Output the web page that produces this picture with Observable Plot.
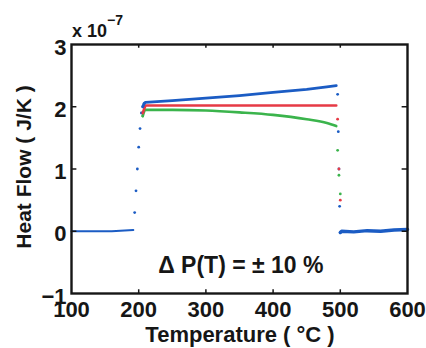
<!DOCTYPE html>
<html>
<head>
<meta charset="utf-8">
<script src="https://cdn.jsdelivr.net/npm/d3@7"></script>
<script src="https://cdn.jsdelivr.net/npm/@observablehq/plot@0.6"></script>
<style>
  html, body { margin: 0; padding: 0; background: #fff; }
  #chart { position: relative; width: 426px; height: 348px; }
  svg text { font-family: "Liberation Sans", Arial, sans-serif; font-weight: bold; }
</style>
</head>
<body>
<div id="chart"></div>
<script>
// Heat flow (units of 1e-7 J/K) versus temperature for a ±10 % power perturbation
const xTicks = [100, 200, 300, 400, 500, 600];
const yTicks = [-1, 0, 1, 2, 3];
const exponentLabel = "−7";

// nominal power: baseline, step up, plateau, step down, baseline
const blueT = [100, 130, 160, 192, 194, 196, 198, 200, 202, 204, 206, 208, 210, 250, 300, 350, 400, 450, 480, 494, 496, 497, 498, 499, 500, 502, 520, 540, 560, 580, 600];
const blueQ = [0, 0, 0, 0.02, 0.3, 0.65, 1.0, 1.35, 1.65, 1.9, 2.0, 2.05, 2.07, 2.1, 2.14, 2.18, 2.23, 2.28, 2.32, 2.34, 2.2, 1.6, 1.0, 0.4, -0.02, 0.0, -0.01, 0.01, 0.0, 0.02, 0.03];

// +10 % power
const redT = [206, 210, 250, 300, 350, 400, 450, 494, 496, 498, 500];
const redQ = [1.9, 2.02, 2.02, 2.02, 2.02, 2.02, 2.02, 2.02, 1.8, 1.0, 0.5];

// -10 % power
const greenT = [206, 210, 250, 300, 350, 400, 450, 480, 494, 496, 498, 500];
const greenQ = [1.85, 1.95, 1.95, 1.94, 1.91, 1.87, 1.8, 1.74, 1.69, 1.3, 0.9, 0.6];

const series = [
  {name: "nominal", color: "#1b5cc4", T: blueT, Q: blueQ},
  {name: "plus", color: "#e63a45", T: redT, Q: redQ},
  {name: "minus", color: "#3bb44c", T: greenT, Q: greenQ}
];
const rows = series.flatMap(s => s.T.map((t, i) => ({series: s.name, color: s.color, T: t, Q: s.Q[i]})));
const of = name => rows.filter(d => d.series === name);
const steps = rows.filter(d => (d.T > 192 && d.T < 210) || (d.T > 494 && d.T <= 500));

const ink = "#161616";
const chart = Plot.plot({
  width: 426,
  height: 348,
  marginLeft: 71,
  marginRight: 19,
  marginTop: 44,
  marginBottom: 55,
  style: {fontFamily: "Liberation Sans, Arial, sans-serif", fontSize: "16px", color: ink, background: "#fff"},
  x: {domain: [100, 600]},
  y: {domain: [-1, 3]},
  marks: [
    Plot.line(of("minus").filter(d => d.T >= 206 && d.T <= 494), {x: "T", y: "Q", stroke: "color", strokeWidth: 2.6, curve: "monotone-x"}),
    Plot.line(of("plus").filter(d => d.T >= 206 && d.T <= 494), {x: "T", y: "Q", stroke: "color", strokeWidth: 2.6}),
    Plot.line(of("nominal").filter(d => d.T <= 192), {x: "T", y: "Q", stroke: "color", strokeWidth: 2}),
    Plot.line(of("nominal").filter(d => d.T >= 206 && d.T <= 494), {x: "T", y: "Q", stroke: "color", strokeWidth: 2.8}),
    Plot.line(of("nominal").filter(d => d.T >= 500), {x: "T", y: "Q", stroke: "color", strokeWidth: 3.5}),
    Plot.dot(steps, {x: "T", y: "Q", fill: "color", r: 1.4}),
    Plot.frame({stroke: ink, strokeWidth: 2.4}),
    Plot.axisX(xTicks, {tickSize: 0, tickPadding: 8, fontSize: 22, fontWeight: "bold", label: null, tickFormat: d3.format("d")}),
    Plot.ruleX(xTicks.slice(1, -1), {y1: -1, y2: -0.94, stroke: ink, strokeWidth: 1.5}),
    Plot.ruleX(xTicks.slice(1, -1), {y1: 3, y2: 2.94, stroke: ink, strokeWidth: 1.5}),
    Plot.axisY(yTicks, {tickSize: 0, tickPadding: 5, fontSize: 22, fontWeight: "bold", label: null, tickFormat: d3.format("d"), dy: 3}),
    Plot.ruleY(yTicks.slice(1, -1), {x1: 100, x2: 108, stroke: ink, strokeWidth: 1.5}),
    Plot.ruleY(yTicks.slice(1, -1), {x1: 600, x2: 592, stroke: ink, strokeWidth: 1.5}),
    Plot.text(["Δ P(T) = ± 10 %"], {x: 352, y: -0.55, fontSize: 23, fontWeight: "bold", fill: ink})
  ]
});

const svg = d3.select(chart);
// exponent label above the y axis
const ex = svg.append("text").attr("x", 72).attr("y", 37).attr("text-anchor", "start").attr("font-size", 18).attr("fill", ink);
ex.append("tspan").text("x 10");
ex.append("tspan").attr("dy", -12).attr("font-size", 14).text(exponentLabel);
// axis titles
svg.append("text").attr("x", 240).attr("y", 342).attr("text-anchor", "middle").attr("font-size", 22).attr("fill", ink).text("Temperature ( °C )");
svg.append("text").attr("transform", "translate(31,167) rotate(-90)").attr("text-anchor", "middle").attr("font-size", 21).attr("fill", ink).text("Heat Flow ( J/K )");

document.getElementById("chart").appendChild(chart);
</script>
</body>
</html>
